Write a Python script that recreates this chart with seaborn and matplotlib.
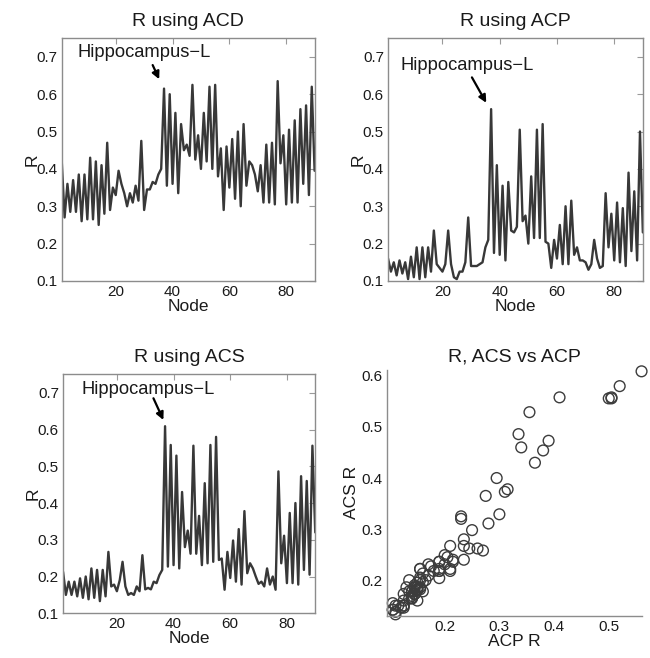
import matplotlib
matplotlib.use("Agg")
import matplotlib.pyplot as plt
import pandas as pd
import seaborn as sns

# R per node (AAL 90 regions)
nodes = list(range(1, 91))

r_acd = [0.42, 0.27, 0.36, 0.285, 0.37, 0.285, 0.385, 0.26, 0.385, 0.265,
         0.43, 0.265, 0.42, 0.25, 0.41, 0.28, 0.47, 0.29, 0.35, 0.33,
         0.395, 0.36, 0.335, 0.30, 0.335, 0.31, 0.355, 0.315, 0.475, 0.29,
         0.345, 0.345, 0.365, 0.36, 0.385, 0.40, 0.615, 0.355, 0.60, 0.36,
         0.55, 0.335, 0.52, 0.45, 0.465, 0.435, 0.625, 0.425, 0.49, 0.40,
         0.55, 0.42, 0.62, 0.40, 0.625, 0.38, 0.455, 0.29, 0.46, 0.35,
         0.48, 0.32, 0.50, 0.30, 0.52, 0.355, 0.42, 0.41, 0.385, 0.34,
         0.41, 0.31, 0.465, 0.31, 0.47, 0.305, 0.635, 0.415, 0.49, 0.305,
         0.505, 0.31, 0.53, 0.31, 0.56, 0.36, 0.57, 0.33, 0.62, 0.395]

r_acp = [0.16, 0.125, 0.15, 0.115, 0.155, 0.12, 0.15, 0.105, 0.165, 0.11,
         0.19, 0.105, 0.19, 0.11, 0.19, 0.125, 0.235, 0.145, 0.135, 0.125,
         0.145, 0.235, 0.145, 0.11, 0.105, 0.125, 0.125, 0.15, 0.27, 0.14,
         0.14, 0.14, 0.145, 0.15, 0.19, 0.21, 0.56, 0.175, 0.41, 0.17,
         0.355, 0.155, 0.365, 0.235, 0.23, 0.245, 0.505, 0.26, 0.275, 0.20,
         0.38, 0.215, 0.505, 0.215, 0.52, 0.205, 0.20, 0.135, 0.21, 0.16,
         0.25, 0.145, 0.30, 0.145, 0.315, 0.17, 0.19, 0.155, 0.155, 0.15,
         0.13, 0.145, 0.21, 0.16, 0.135, 0.14, 0.335, 0.19, 0.28, 0.155,
         0.31, 0.15, 0.295, 0.14, 0.39, 0.18, 0.34, 0.155, 0.50, 0.23]

r_acs = [0.213, 0.15, 0.186, 0.15, 0.186, 0.146, 0.195, 0.142, 0.20, 0.138,
         0.222, 0.142, 0.218, 0.133, 0.218, 0.146, 0.267, 0.173, 0.178, 0.16,
         0.19, 0.24, 0.173, 0.15, 0.155, 0.15, 0.173, 0.16, 0.258, 0.165,
         0.169, 0.165, 0.186, 0.182, 0.204, 0.218, 0.609, 0.227, 0.558, 0.231,
         0.529, 0.222, 0.43, 0.28, 0.325, 0.262, 0.556, 0.262, 0.365, 0.231,
         0.454, 0.236, 0.558, 0.24, 0.58, 0.245, 0.249, 0.164, 0.267, 0.196,
         0.298, 0.186, 0.329, 0.178, 0.378, 0.209, 0.236, 0.222, 0.20, 0.18,
         0.186, 0.173, 0.222, 0.178, 0.20, 0.164, 0.486, 0.236, 0.311, 0.182,
         0.373, 0.182, 0.40, 0.178, 0.473, 0.218, 0.46, 0.205, 0.556, 0.32]

line_titles = ["R using ACD", "R using ACP", "R using ACS"]
label_text = "Hippocampus\u2212L"

sns.set_style("white")
plt.rcParams["font.family"] = ["Liberation Sans", "DejaVu Sans"]
plt.rcParams["axes.edgecolor"] = "#8c8c8c"
plt.rcParams["axes.linewidth"] = 1.0
for key in ["text.color", "axes.labelcolor", "xtick.labelcolor", "ytick.labelcolor"]:
    plt.rcParams[key] = "#1a1a1a"

LINE_C = "#383838"

fig = plt.figure(figsize=(6.5, 6.58), dpi=100)
ax_acd = fig.add_axes([0.095, 0.573, 0.389, 0.369])
ax_acp = fig.add_axes([0.597, 0.573, 0.392, 0.369])
ax_acs = fig.add_axes([0.097, 0.068, 0.388, 0.363])
ax_sc = fig.add_axes([0.595, 0.064, 0.392, 0.374])

df = pd.DataFrame({"Node": nodes, "ACD": r_acd, "ACP": r_acp, "ACS": r_acs})

# (text xy, arrow tail, arrow tip) in data coords
notes = {
    "ACD": ((6.7, 0.699), (33.0, 0.678), (35.3, 0.640)),
    "ACP": ((5.2, 0.664), (30.3, 0.645), (35.3, 0.577)),
    "ACS": ((7.4, 0.698), (32.9, 0.685), (36.4, 0.626)),
}

for ax, col, title in zip([ax_acd, ax_acp, ax_acs], ["ACD", "ACP", "ACS"], line_titles):
    sns.lineplot(data=df, x="Node", y=col, ax=ax, color=LINE_C, lw=1.7)
    ax.set_xlim(1, 90)
    ax.set_ylim(0.1, 0.75)
    ax.set_xticks([20, 40, 60, 80])
    ax.set_yticks([0.1, 0.2, 0.3, 0.4, 0.5, 0.6, 0.7])
    ax.set_yticklabels(["0.1", "0.2", "0.3", "0.4", "0.5", "0.6", "0.7"])
    ax.tick_params(direction="in", length=4, width=0.8, color="#9a9a9a",
                   top=True, right=True, labelsize=11, pad=3)
    ax.set_xlabel("Node", fontsize=12.5, labelpad=0)
    ax.set_ylabel("R", fontsize=12.5, labelpad=-2)
    ax.set_title(title, fontsize=14, pad=9)
    txt, tail, tip = notes[col]
    ax.text(txt[0], txt[1], label_text, fontsize=13.2, ha="left", va="baseline")
    ax.annotate("", xy=tip, xytext=tail,
                arrowprops=dict(arrowstyle="-|>", color="black", lw=1.6,
                                mutation_scale=11, shrinkA=0, shrinkB=0))

sns.scatterplot(data=df, x="ACP", y="ACS", ax=ax_sc, marker="o", s=60,
                facecolor="none", edgecolor="#3c3c3c", linewidth=1.0, clip_on=False)
ax_sc.set_xlim(0.094, 0.56)
ax_sc.set_ylim(0.13, 0.612)
ax_sc.set_xticks([0.2, 0.3, 0.4, 0.5])
ax_sc.set_xticklabels(["0.2", "0.3", "0.4", "0.5"])
ax_sc.set_yticks([0.2, 0.3, 0.4, 0.5, 0.6])
ax_sc.set_yticklabels(["0.2", "0.3", "0.4", "0.5", "0.6"])
ax_sc.spines["top"].set_visible(False)
ax_sc.spines["right"].set_visible(False)
ax_sc.tick_params(direction="in", length=4, width=0.8, color="#9a9a9a",
                  labelsize=11, pad=3)
ax_sc.set_xlabel("ACP R", fontsize=12.5, labelpad=0)
ax_sc.set_ylabel("ACS R", fontsize=12.5, labelpad=2)
ax_sc.set_title("R, ACS vs ACP", fontsize=14, pad=6)

fig.savefig("out.png", dpi=100)
plt.close(fig)
